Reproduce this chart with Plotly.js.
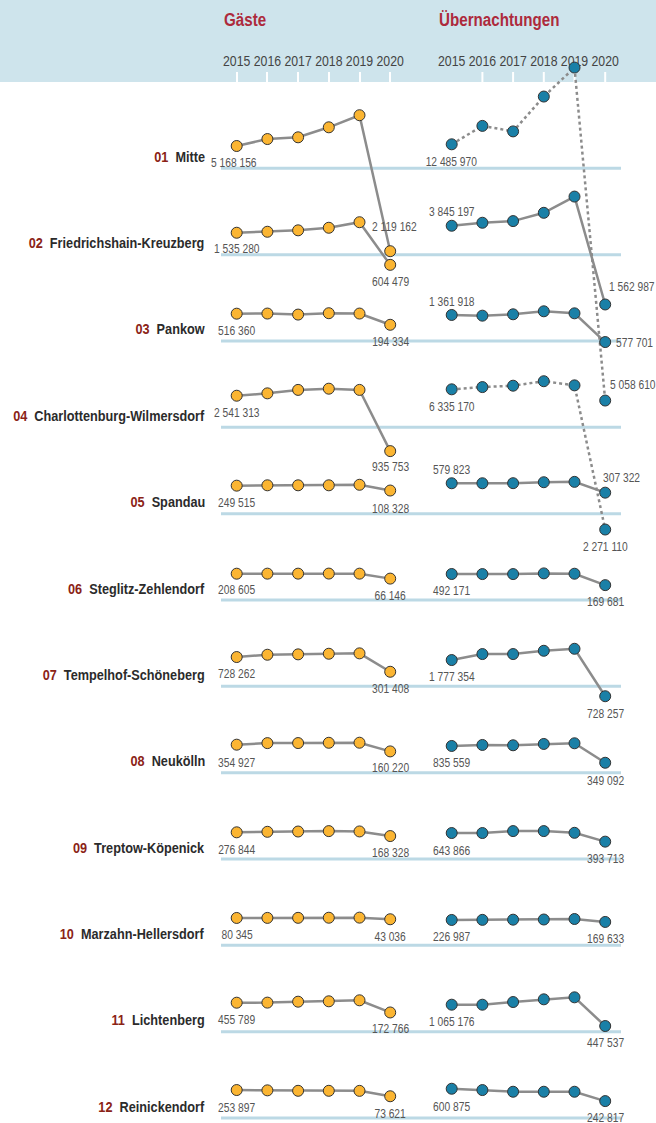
<!DOCTYPE html>
<html>
<head>
<meta charset="utf-8">
<script src="https://cdn.plot.ly/plotly-3.0.1.min.js"></script>
<style>html,body{margin:0;padding:0;background:#fff;}#chart{width:656px;height:1123px;}</style>
</head>
<body>
<div id="chart"></div>
<script>
// ---------- DATA ----------
const years = [2015, 2016, 2017, 2018, 2019, 2020];
const districtNumbers = ["01","02","03","04","05","06","07","08","09","10","11","12"];
const districtNames = ["Mitte","Friedrichshain-Kreuzberg","Pankow","Charlottenburg-Wilmersdorf","Spandau","Steglitz-Zehlendorf","Tempelhof-Schöneberg","Neukölln","Treptow-Köpenick","Marzahn-Hellersdorf","Lichtenberg","Reinickendorf"];
const gaesteMitte = [5168156, 5370000, 5420000, 5710000, 6060000, 2119162];
const gaesteFK = [1535280, 1564000, 1605000, 1680000, 1840000, 604479];
const gaestePankow = [516360, 520000, 490000, 530000, 520000, 194334];
const gaesteCW = [2541313, 2610000, 2710000, 2745000, 2710000, 935753];
const gaesteSpandau = [249515, 260000, 260000, 260000, 275000, 108328];
const gaesteSZ = [208605, 210000, 210000, 212000, 210000, 66146];
const gaesteTS = [728262, 795000, 806000, 824000, 835000, 301408];
const gaesteNeukoelln = [354927, 400000, 402000, 410000, 412000, 160220];
const gaesteTK = [276844, 292000, 300000, 312000, 302000, 168328];
const gaesteMH = [80345, 82000, 84000, 87000, 90000, 43036];
const gaesteLichtenberg = [455789, 458000, 485000, 496000, 525000, 172766];
const gaesteReinickendorf = [253897, 245000, 232000, 232000, 230000, 73621];
const uebMitte = [12485970, 13020000, 12860000, 13870000, 14710000, 5058610];
const uebFK = [3845197, 3932000, 3980000, 4220000, 4690000, 1562987];
const uebPankow = [1361918, 1342000, 1382000, 1469000, 1410000, 577701];
const uebCW = [6335170, 6400000, 6440000, 6570000, 6450000, 2271110];
const uebSpandau = [579823, 580000, 582000, 610000, 620000, 307322];
const uebSZ = [492171, 490000, 490000, 510000, 500000, 169681];
const uebTS = [1777354, 1951000, 1951000, 2046000, 2104000, 728257];
const uebNeukoelln = [835559, 865000, 856000, 894000, 914000, 349092];
const uebTK = [643866, 644000, 700000, 700000, 650000, 393713];
const uebMH = [226987, 230000, 235000, 240000, 255000, 169633];
const uebLichtenberg = [1065176, 1065000, 1143000, 1221000, 1279000, 447537];
const uebReinickendorf = [600875, 563000, 514000, 514000, 514000, 242817];

const gaeste = [gaesteMitte, gaesteFK, gaestePankow, gaesteCW, gaesteSpandau, gaesteSZ, gaesteTS, gaesteNeukoelln, gaesteTK, gaesteMH, gaesteLichtenberg, gaesteReinickendorf];
const ueb = [uebMitte, uebFK, uebPankow, uebCW, uebSpandau, uebSZ, uebTS, uebNeukoelln, uebTK, uebMH, uebLichtenberg, uebReinickendorf];
const columnTitles = ["Gäste", "Übernachtungen"];

// ---------- LAYOUT / STYLE ----------
const W = 656, H = 1123;
const K = 34.5e-6;            // px per person (vertical scale)
const P = 30.7;               // px per year
const x2015 = [236.7, 451.7]; // px position of 2015 in each column
const base0 = 168.3, rowStep = 86.34;
const liftG = [22.3, 21.9, 27.3, 31.6, 28.0, 26.3, 29.3, 28.0, 26.7, 27.4, 29.0, 28.0];
const liftU = [24.0, 28.9, 26.0, 38.0, 30.4, 26.0, 26.3, 26.7, 26.0, 25.4, 27.0, 29.3];
const dottedU = [true, false, false, true, false, false, false, false, false, false, false, false];
// label placements (screen px, down positive)
const first_dx = [[-3,0,0,0,0,0,0,0,0,0,0,0],[0,0,0,0,0,0,0,0,0,0,0,0]];
const first_dy = [[16.5,16.5,17.5,17.3,17.3,16.5,17,18,17.5,17.5,17.3,17.5],[18,-14,-12.5,17.3,-13.5,17,17.3,17.3,17.5,17,17.3,18]];
const last_dy  = [[-24,17,17,15.6,18,17.5,17,17,16.7,17.5,16.7,17.3],[-16,-17.5,0.5,17.3,-15,17,17.3,18,17.5,17.3,17.3,16.5]];
const last_dx  = [[4,0,0,0,0,0,0,0,0,0,0,0],[3,1.5,9,0,-4,0,0,0,0,0,0,0]];
const last_anchor = [["center","center","center","center","center","center","center","center","center","center","center","center"],["left","left","left","center","left","center","center","center","center","center","center","center"]];
const uTickYears = [2016, 2017, 2018, 2019, 2020];

const FONT = "'Liberation Sans', Arial, sans-serif";
const SX = 0.82; // horizontal condensing of text
const fills = ["#fbb532", "#1a80a7"];
const headerH = 82;

const fmt = v => String(v).replace(/\B(?=(\d{3})+(?!\d))/g, " ");

const traces = [];
const layout = {
  width: W, height: H,
  margin: {l: 0, r: 0, t: 0, b: 0},
  paper_bgcolor: "#ffffff", plot_bgcolor: "rgba(0,0,0,0)",
  showlegend: false,
  font: {family: FONT, color: "#555"},
  shapes: [], annotations: []
};

// x axes (year ticks + labels in the header, drawn below the traces)
[0, 1].forEach(c => {
  const key = c === 0 ? "xaxis" : "xaxis2";
  layout[key] = {
    domain: [0, 1],
    range: [2015 - x2015[c] / P, 2015 + (W - x2015[c]) / P],
    anchor: "free", position: 1 - headerH / H, side: "top", layer: "below traces",
    tickmode: "array", tickvals: years, ticktext: years.map(String), tickangle: 0,
    ticks: "outside", ticklen: 10, tickwidth: 2,
    tickcolor: c === 0 ? "#ffffff" : "rgba(0,0,0,0)",
    tickfont: {size: 15, color: "#444", family: FONT},
    showgrid: false, zeroline: false, showline: false, fixedrange: true
  };
});

// header band
layout.shapes.push({type: "rect", xref: "paper", yref: "paper", x0: 0, x1: 1, y0: 1 - headerH / H, y1: 1,
  fillcolor: "#cee4ec", line: {width: 0}, layer: "below"});
uTickYears.forEach(yr => layout.shapes.push({type: "line", xref: "x2", yref: "paper", x0: yr, x1: yr,
  y0: 1 - headerH / H, y1: 1 - (headerH - 10) / H, line: {color: "#ffffff", width: 2}, layer: "below"}));

// titles
columnTitles.forEach((t, c) => layout.annotations.push({
  text: "<b>" + t + "</b>", xref: "paper", yref: "paper", x: (c === 0 ? 222 : 437) / W, y: 1 - 20 / H,
  xanchor: "left", yanchor: "middle", showarrow: false, font: {size: 18.5, color: "#ad2a3c", family: FONT}
}));

districtNames.forEach((name, r) => {
  const b = base0 + rowStep * r;
  // baseline
  layout.shapes.push({type: "line", xref: "paper", yref: "paper", x0: 221 / W, x1: 621 / W,
    y0: 1 - b / H, y1: 1 - b / H, line: {color: "#bcd9e5", width: 3}, layer: "below"});
  // row label
  layout.annotations.push({
    text: "<b><span style='color:#8b2316'>" + districtNumbers[r] + "</span>\u00a0 <span style='color:#2b2b2b'>" + name + "</span></b>",
    xref: "paper", yref: "paper", x: 207 / W, y: 1 - (b - 12) / H, xanchor: "right", yanchor: "middle",
    showarrow: false, font: {size: 15.5, family: FONT}
  });
  [gaeste[r], ueb[r]].forEach((vals, c) => {
    const idx = r * 2 + c + 1;
    const yname = idx === 1 ? "y" : "y" + idx;
    const ykey = idx === 1 ? "yaxis" : "yaxis" + idx;
    const lift = c === 0 ? liftG[r] : liftU[r];
    const p0 = b - lift;
    const lo = vals[0] - (H - p0) / K;
    layout[ykey] = {domain: [0, 1], range: [lo, lo + H / K], visible: false, anchor: c === 0 ? "x" : "x2", fixedrange: true};
    traces.push({
      type: "scatter", mode: "lines+markers",
      x: years, y: vals, xaxis: c === 0 ? "x" : "x2", yaxis: yname,
      line: {color: "#8c8c8c", width: 2.5, dash: (c === 1 && dottedU[r]) ? "dot" : "solid"},
      marker: {size: 11, color: fills[c], line: {color: "#333333", width: 1}},
      cliponaxis: false, hoverinfo: "skip"
    });
    const xr = c === 0 ? "x" : "x2";
    layout.annotations.push({
      text: fmt(vals[0]), xref: xr, yref: yname, x: years[0], y: vals[0],
      xanchor: "center", yanchor: "middle", xshift: first_dx[c][r], yshift: -first_dy[c][r], showarrow: false,
      font: {size: 12.5, color: "#555", family: FONT}
    });
    const n = vals.length - 1;
    layout.annotations.push({
      text: fmt(vals[n]), xref: xr, yref: yname, x: years[n], y: vals[n],
      xanchor: last_anchor[c][r], yanchor: "middle", xshift: last_dx[c][r], yshift: -last_dy[c][r], showarrow: false,
      font: {size: 12.5, color: "#555", family: FONT}
    });
  });
});

function condense(gd) {
  gd.querySelectorAll("g.annotation").forEach(g => {
    const i = +g.getAttribute("data-index");
    const a = layout.annotations[i] || {};
    const org = a.xanchor === "left" ? "0% 50%" : a.xanchor === "right" ? "100% 50%" : "50% 50%";
    g.querySelectorAll("text").forEach(t => {
      t.style.transformBox = "fill-box";
      t.style.transformOrigin = org;
      t.style.transform = "scaleX(" + SX + ")";
    });
  });
  // tick labels carry their own SVG transform: append a scale about the anchor point
  gd.querySelectorAll("g.xtick text, g.x2tick text").forEach(t => {
    const x = parseFloat(t.getAttribute("x") || "0");
    const tr = t.getAttribute("transform") || "";
    t.setAttribute("transform", tr + " translate(" + x + ",0) scale(" + SX + ",1) translate(" + (-x) + ",0)");
  });
}

Plotly.newPlot("chart", traces, layout, {staticPlot: true, displayModeBar: false})
  .then(gd => condense(gd));
</script>
</body>
</html>
